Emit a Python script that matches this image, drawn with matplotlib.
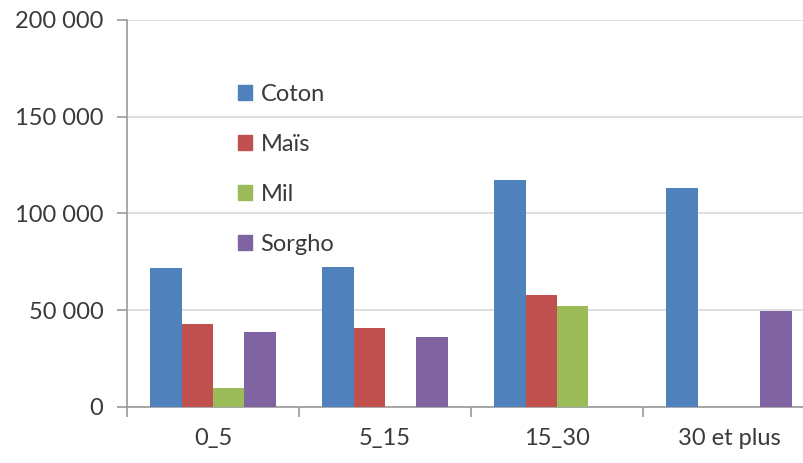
import matplotlib
matplotlib.use("Agg")
import matplotlib.pyplot as plt
import numpy as np
from matplotlib.patches import Patch

categories = ["0_5", "5_15", "15_30", "30 et plus"]
series_names = ["Coton", "Maïs", "Mil", "Sorgho"]
coton = [71700, 72500, 117200, 113100]
mais = [42600, 40700, 57600, 0]
mil = [9500, 0, 52100, 0]
sorgho = [38700, 35900, 0, 49700]
yticks = [0, 50000, 100000, 150000, 200000]
ytick_labels = ["0", "50 000", "100 000", "150 000", "200 000"]

colors = ["#4F81BD", "#C0504D", "#9BBB59", "#8064A2"]
values = [coton, mais, mil, sorgho]

plt.rcParams['font.family'] = ['Lato', 'DejaVu Sans']
fs = 17
fig = plt.figure(figsize=(8.04, 4.63), dpi=100)
# axes from x=127 to ~815 px, y from 20 to 406.7 px
ax = fig.add_axes([127/804, (463-406.7)/463, (815-127)/804, (406.7-20)/463])

n = len(series_names)
x = np.arange(len(categories))
bw = 1.0 / (n + 1.5)
for i, (name, vals) in enumerate(zip(series_names, values)):
    offs = (i - (n - 1) / 2) * bw
    ax.bar(x + offs, vals, width=bw, color=colors[i], label=name, zorder=3)

ax.set_xlim(-0.5, len(categories) - 0.5)
ax.set_ylim(0, 200000)
ax.set_yticks(yticks)
ax.set_yticklabels(ytick_labels, fontsize=fs, color="#3a3a3a")
ax.set_xticks(x)
ax.set_xticklabels(categories, fontsize=fs, color="#3a3a3a")
ax.tick_params(axis='x', length=0, pad=15)
ax.set_xticks(np.arange(len(categories) + 1) - 0.5, minor=True)
ax.tick_params(axis='x', which='minor', length=7, color="#9a9a9a", width=1.2)
ax.tick_params(axis='y', length=7, color="#9a9a9a", width=1.2, pad=10)
ax.yaxis.grid(True, color="#d9d9d9", linewidth=1.2, zorder=0)
ax.set_axisbelow(True)
for s in ["top", "right"]:
    ax.spines[s].set_visible(False)
for s in ["left", "bottom"]:
    ax.spines[s].set_color("#9a9a9a")
    ax.spines[s].set_linewidth(1.2)

handles = [Patch(color=c) for c in colors]
leg = ax.legend(handles, series_names, loc="upper left",
                bbox_to_anchor=((217-127)/688, (406.7-63)/386.7),
                frameon=False, fontsize=fs, handlelength=0.6, handleheight=0.6,
                labelspacing=1.22, handletextpad=0.35)
for t in leg.get_texts():
    t.set_color("#3a3a3a")

fig.savefig("out.png", dpi=100)
